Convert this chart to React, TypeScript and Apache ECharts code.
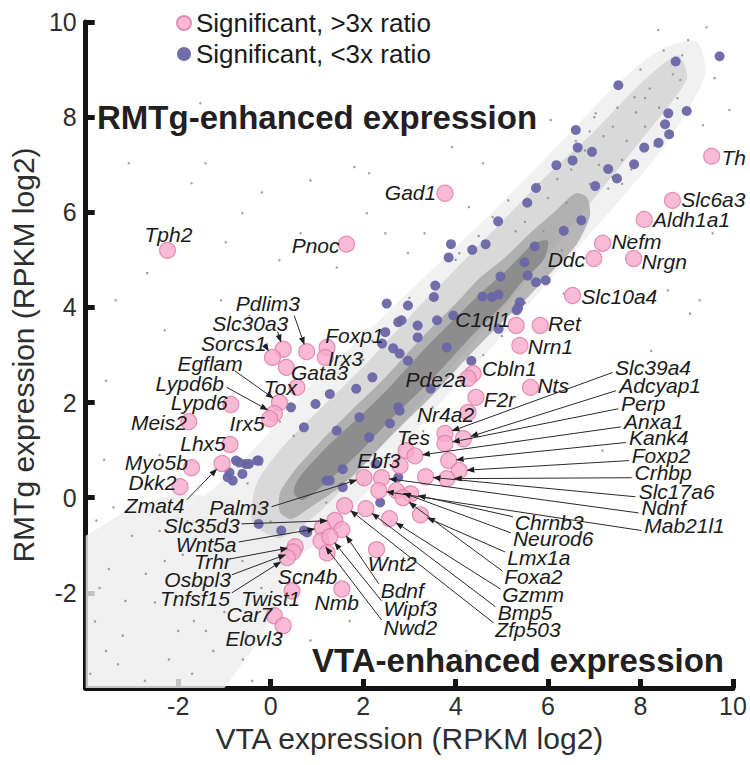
import React, { useEffect, useRef } from 'react';
import * as echarts from 'echarts';

const FONT = 'Liberation Sans, Arial, Helvetica, sans-serif';

// Axis tick values
const xTicks = [-4, -2, 0, 2, 4, 6, 8, 10];
const yTicks = [-4, -2, 0, 2, 4, 6, 8, 10];

// Significant genes, >3x ratio: [gene, VTA log2 RPKM, RMTg log2 RPKM]
const highRatioGenes: [string, number, number][] = [
  ['Th', 9.54, 7.18], ['Slc6a3', 8.69, 6.25], ['Aldh1a1', 8.08, 5.85], ['Nefm', 7.18, 5.35],
  ['Ddc', 6.99, 5.03], ['Nrgn', 7.85, 5.03], ['Slc10a4', 6.53, 4.25], ['C1ql1', 5.31, 3.62],
  ['Ret', 5.83, 3.62], ['Nrn1', 5.39, 3.2], ['Gad1', 3.77, 6.4], ['Pnoc', 1.64, 5.33],
  ['Tph2', -2.23, 5.2], ['Cbln1', 4.38, 2.61], ['Pde2a', 4.27, 2.51], ['F2r', 4.44, 2.11],
  ['Nts', 5.62, 2.32], ['Nr4a2', 4.27, 1.79], ['Pdlim3', 0.78, 3.07], ['Slc30a3', 0.27, 3.12],
  ['Sorcs1', 0.04, 2.95], ['Foxp1', 1.22, 3.16], ['Irx3', 1.18, 2.95], ['Gata3', 0.34, 2.74],
  ['Tox', 0.57, 2.32], ['Egflam', 0.19, 2.0], ['Lypd6b', 0.08, 1.77], ['Irx5', -0.02, 1.66],
  ['Lypd6', -0.86, 1.96], ['Meis2', -1.77, 1.6], ['Lhx5', -0.88, 1.12], ['Myo5b', -1.71, 0.63],
  ['Zmat4', -1.05, 0.72], ['Dkk2', -1.96, 0.23], ['Tes', 2.93, 0.99], ['Anxa1', 3.12, 0.88],
  ['Slc39a4', 3.77, 1.35], ['Adcyap1', 4.17, 1.24], ['Perp', 3.77, 1.14], ['Kank4', 3.85, 0.78],
  ['Foxp2', 4.08, 0.57], ['Crhbp', 3.81, 0.4], ['Slc17a6', 3.35, 0.44], ['Ndnf', 2.4, 0.42],
  ['Mab21l1', 2.34, 0.15], ['Ebf3', 2.8, 0.67], ['Palm3', 2.02, 0.42], ['Chrnb3', 3.03, 0.08],
  ['Neurod6', 2.72, 0.15], ['Foxa2', 2.86, 0.0], ['Lmx1a', 3.24, -0.36], ['Gzmm', 2.57, -0.44],
  ['Bmp5', 2.06, -0.23], ['Zfp503', 1.6, -0.17], ['Slc35d3', 1.39, -0.48], ['Wnt5a', 1.12, -0.63],
  ['Bdnf', 1.54, -0.67], ['Nwd2', 1.09, -0.91], ['Wipf3', 1.28, -0.82], ['Scn4b', 1.22, -1.16],
  ['Wnt2', 2.29, -1.09], ['Trhr', 0.53, -1.03], ['Osbpl3', 0.48, -1.14], ['Tnfsf15', 0.36, -1.26],
  ['Twist1', 0.46, -1.96], ['Nmb', 1.54, -1.92], ['Car7', 0.08, -2.48], ['Elovl3', 0.27, -2.69],
];

// Significant genes, <3x ratio: [VTA, RMTg]
const lowRatioGenes: [number, number][] = [
  [9.71, 9.28], [8.76, 9.17], [7.52, 8.67], [9.0, 8.13], [8.6, 8.08], [8.53, 7.85], [8.62, 7.64],
  [8.39, 7.46], [8.08, 7.36], [7.86, 7.01], [7.49, 6.71], [7.3, 6.91], [6.95, 7.27], [7.02, 6.55],
  [6.6, 7.73], [6.64, 7.36], [6.53, 7.09], [6.18, 6.99], [5.74, 6.51], [5.55, 6.2], [6.72, 5.83],
  [6.34, 5.61], [4.92, 5.81], [4.65, 5.33], [4.36, 5.21], [3.9, 5.33], [3.85, 5.05], [5.71, 5.28],
  [5.49, 4.95], [5.56, 4.67], [5.95, 4.57], [5.74, 4.53], [4.97, 4.65], [4.79, 4.22], [4.58, 4.23],
  [4.93, 4.27], [5.39, 4.11], [5.35, 3.99], [3.56, 4.46], [3.53, 4.22], [2.97, 4.04], [2.76, 3.69],
  [3.18, 3.62], [4.93, 3.55], [5.32, 3.94], [4.34, 2.88], [2.83, 3.73], [2.65, 3.14], [2.97, 2.88],
  [3.46, 2.29], [2.79, 1.83], [2.58, 1.56], [3.81, 3.16], [3.18, 3.37], [3.95, 3.83], [3.6, 3.73],
  [2.51, 4.08], [2.48, 3.48], [2.41, 3.24], [2.79, 3.03], [2.2, 2.53], [1.85, 2.29], [1.28, 2.18],
  [0.97, 1.97], [0.44, 1.9], [0.72, 1.48], [1.43, 1.41], [1.92, 1.69], [2.13, 1.27], [2.76, 1.9],
  [2.27, 0.71], [1.56, 0.6], [1.21, 0.36], [2.76, 0.43], [-0.26, 0.78], [-0.54, 0.71], [-0.75, 0.78],
  [-0.93, 0.43], [-0.61, 0.5], [2.37, -0.1], [-0.68, 0.74], [-0.47, 0.71], [-0.29, 0.78],
  [-0.89, 0.53], [-0.82, 0.36], [0.23, -0.69], [0.79, -0.73], [-0.26, -0.55], [1.28, 0.36],
  [1.56, 0.22], [0.72, -0.69],
];

// Individually visible non-significant genes (sparse region)
const otherGenes: [number, number][] = [
  [-1.52, 8.29], [-1.71, 6.61], [-0.19, 6.42], [2.13, 6.82], [0.65, 5.56], [0.19, 4.99], [-0.61, 5.98],
  [-0.97, 5.37], [-1.07, 4.15], [-2.67, 4.72], [-3.07, 7.03], [-1.41, 7.03], [1.43, 4.84], [-0.46, 3.83],
  [1.81, 6.95], [0.86, 6.67], [2.08, 5.98], [2.48, 5.56], [9.03, 9.62], [9.43, 9.89], [9.92, 8.15],
  [9.35, 7.83], [9.6, 8.82], [7.39, 6.74], [7.75, 5.47], [8.59, 4.36], [9.56, 5.56], [9.07, 3.87],
  [6.34, 4.29], [6.76, 4.88], [6.06, 7.94], [5.14, 6.25], [4.59, 7.03], [4.29, 6.11], [3.33, 5.56],
  [3.92, 7.37], [8.38, 9.83], [8.86, 8.78], [7.87, 8.42], [7.03, 8.08], [4.08, 5.14], [2.97, 5.14],
  [-3.35, 4.15], [-3.56, 2.46], [-2.93, 1.62], [-1.24, 2.88], [-2.29, 3.52], [-3.77, -0.48],
  [-1.66, -2.59], [-0.4, -3.85], [0.86, -3.0], [1.71, -2.59], [3.39, -2.17], [4.23, -3.22],
  [6.13, -1.33], [7.18, 0.99], [8.23, 3.09], [9.28, 4.15], [-0.61, -1.33], [-1.24, -3.22],
  [-2.72, -3.85], [-3.14, -2.17], [-2.29, -1.33], [-3.56, -3.22],
  [6.5, 6.9], [6.8, 7.3], [7.1, 7.0], [7.4, 7.8], [7.7, 7.5], [7.9, 8.1], [8.2, 8.6], [8.4, 8.2],
  [8.7, 8.9], [8.9, 9.3], [7.2, 7.6], [6.9, 6.6], [7.6, 7.1], [8.1, 7.8], [6.6, 7.5], [7.0, 8.0],
  [8.0, 9.0], [8.5, 9.4], [6.2, 6.7], [6.0, 6.3], [5.8, 6.6], [5.5, 5.8], [5.9, 5.6], [6.4, 6.2],
  [7.3, 6.5], [7.8, 6.9], [8.3, 7.4], [7.5, 8.2], [8.1, 8.4], [6.9, 7.7], [7.6, 6.6], [8.8, 8.4],
  [-3.5, -1.5], [-3.0, -0.8], [-2.5, -2.2], [-2.0, -2.8], [-1.5, -1.8], [-1.0, -2.4], [-0.5, -2.9],
  [-3.8, -2.6], [-3.3, -3.5], [-2.2, -3.4], [-1.8, -0.5], [-1.2, -1.0], [-0.8, -0.3], [-2.8, 0.3],
  [-3.6, 0.8], [-2.4, 0.9], [-3.2, -2.9], [-2.7, -1.6], [-3.7, -1.9], [-1.9, -1.2], [-2.4, -0.7],
  [-3.4, -0.2], [-1.4, -2.8], [-0.9, -1.6], [-0.2, -1.9], [-0.6, -3.4], [-1.7, -3.7], [-3.9, -3.7],
  [1.0, 2.0], [1.5, 2.6], [2.0, 2.9], [2.5, 3.5], [3.0, 4.2], [3.5, 4.5], [4.0, 5.0], [4.5, 5.5],
  [2.0, 0.3], [2.8, 1.0], [3.5, 1.9], [4.2, 2.6], [5.0, 3.4], [5.5, 4.1], [0.5, 1.3], [-0.2, 0.7],
  [-0.5, 0.3], [0.0, -0.5], [0.5, -0.9], [1.2, -0.1], [0.2, 1.6], [1.2, 2.5], [2.2, 3.3], [3.3, 1.4],
  [4.6, 3.0], [5.3, 5.6], [4.8, 5.9], [6.3, 5.2],
];

// Outlines of the dense cloud of all other genes (VTA, RMTg)
const cloudLowLeft: [number, number][] = [
  [-4, -4], [-4, -0.8], [-3, -0.2], [-2, 0.1], [-1, 0.0], [0, -0.4], [0.4, -1.1], [0.2, -2.2], [-0.4, -3.2], [-1.0, -4],
];
const cloudWide: [number, number][] = [
  [-2.0, -0.6], [-1.0, 0.4], [0.0, 1.4], [1.0, 2.5], [2, 3.4], [3.5, 4.8], [5, 6.2], [6.5, 7.7], [7.5, 8.7],
  [8.4, 9.4], [9.2, 9.6], [9.4, 8.9], [8.6, 7.5], [7.5, 6.2], [6.5, 5.1], [5, 3.4], [3.5, 1.8], [2.5, 0.6],
  [1.5, -0.5], [0.5, -1.3], [-0.6, -1.6],
];
const cloudMid: [number, number][] = [
  [-0.3, 0.3], [0.2, 1.0], [1, 1.8], [2, 2.75], [3, 3.8], [4, 4.8], [5, 5.8], [6, 6.8], [7, 7.7], [8, 8.7], [8.8, 9.3],
  [9.0, 8.8], [8, 7.5], [7, 6.3], [6, 5.1], [5, 3.95], [4, 2.85], [3, 1.75], [2, 0.65], [1, -0.35], [0.2, -0.85], [-0.4, -0.5],
];
const cloudCore: [number, number][] = [
  [0.2, 0.1], [0.5, 0.55], [0.86, 0.95], [1.4, 1.5], [1.92, 2.0], [2.5, 2.55], [2.97, 3.05], [3.5, 3.6],
  [4.02, 4.1], [4.5, 4.6], [5.07, 5.05], [5.6, 5.55], [6.13, 6.0], [6.6, 6.4], [6.85, 6.3], [6.9, 5.9],
  [6.6, 5.3], [6.13, 4.8], [5.6, 4.25], [5.07, 3.75], [4.5, 3.2], [4.02, 2.7], [3.5, 2.15], [2.97, 1.65],
  [2.4, 1.1], [1.92, 0.6], [1.4, 0.15], [0.86, -0.2], [0.45, -0.45], [0.2, -0.3],
];
const cloudInner: [number, number][] = [
  [0.6, 0.4], [1.2, 1.05], [1.92, 1.7], [2.5, 2.25], [2.97, 2.75], [3.5, 3.3], [4.02, 3.8], [4.6, 4.35],
  [5.07, 4.75], [5.7, 5.35], [6.0, 5.4], [5.9, 5.0], [5.4, 4.5], [5.07, 4.1], [4.5, 3.55], [4.02, 3.05],
  [3.5, 2.5], [2.97, 2.0], [2.4, 1.45], [1.92, 0.95], [1.3, 0.4], [0.7, -0.05], [0.5, 0.1],
];

// Label placement (layout): [gene, textX, textY, align, arrowStartX?, arrowStartY?]
type LabelPos = [string, number, number, string, number?, number?];
const labelLayout: LabelPos[] = [
  ['Th', 9.75, 7.16, 'left'], ['Slc6a3', 8.88, 6.27, 'left'], ['Aldh1a1', 8.27, 5.85, 'left'],
  ['Nefm', 7.37, 5.39, 'left'], ['Ddc', 6.8, 5.01, 'right'], ['Nrgn', 8.02, 4.97, 'left'],
  ['Slc10a4', 6.72, 4.23, 'left'], ['C1ql1', 5.18, 3.75, 'right'], ['Ret', 6.0, 3.66, 'left'],
  ['Nrn1', 5.56, 3.18, 'left'], ['Gad1', 3.58, 6.42, 'right'], ['Pnoc', 1.49, 5.31, 'right'],
  ['Tph2', -2.21, 5.54, 'center'], ['Cbln1', 4.57, 2.72, 'left'], ['Pde2a', 4.23, 2.48, 'right'],
  ['F2r', 4.61, 2.06, 'left'], ['Nts', 5.77, 2.36, 'left'], ['Nr4a2', 4.4, 1.75, 'right'],
  ['Tes', 3.09, 1.26, 'center'], ['Ebf3', 2.34, 0.78, 'center'], ['Foxp1', 1.18, 3.41, 'left'],
  ['Irx3', 1.24, 2.93, 'left'], ['Gata3', 0.44, 2.63, 'left'], ['Tox', 0.21, 2.32, 'center'],
  ['Lypd6', -0.93, 2.0, 'right'], ['Meis2', -1.81, 1.58, 'right'], ['Irx5', -0.51, 1.56, 'center'],
  ['Lhx5', -0.97, 1.14, 'right'], ['Myo5b', -1.79, 0.74, 'right'], ['Dkk2', -2.04, 0.32, 'right'],
  ['Wnt2', 2.63, -1.39, 'center'], ['Scn4b', 0.8, -1.66, 'center'], ['Twist1', 0.0, -2.11, 'center'],
  ['Nmb', 1.43, -2.21, 'center'], ['Car7', -0.46, -2.46, 'center'], ['Elovl3', -0.36, -2.95, 'center'],
  ['Pdlim3', -0.06, 4.08, 'center', 0.51, 3.83], ['Slc30a3', -0.44, 3.66, 'center', 0.15, 3.49],
  ['Sorcs1', -0.8, 3.24, 'center', -0.08, 3.14], ['Egflam', -1.31, 2.82, 'center', -0.78, 2.67],
  ['Lypd6b', -1.75, 2.4, 'center', -0.95, 2.32], ['Zmat4', -2.51, -0.17, 'center', -1.81, -0.04],
  ['Palm3', -0.04, -0.21, 'right', 0.02, -0.19], ['Slc35d3', -0.67, -0.59, 'right', -0.63, -0.55],
  ['Wnt5a', -0.74, -0.99, 'right', -0.69, -0.93], ['Trhr', -0.86, -1.35, 'right', -0.84, -1.28],
  ['Osbpl3', -0.86, -1.71, 'right', -0.84, -1.62], ['Tnfsf15', -0.88, -2.11, 'right', -0.84, -2.0],
  ['Slc39a4', 7.45, 2.74, 'left', 7.39, 2.63], ['Adcyap1', 7.54, 2.36, 'left', 7.47, 2.25],
  ['Perp', 7.58, 1.98, 'left', 7.52, 1.87], ['Anxa1', 7.64, 1.6, 'left', 7.58, 1.49],
  ['Kank4', 7.75, 1.26, 'left', 7.68, 1.16], ['Foxp2', 7.81, 0.88, 'left', 7.75, 0.78],
  ['Crhbp', 7.87, 0.53, 'left', 7.81, 0.42], ['Slc17a6', 7.96, 0.13, 'left', 7.89, 0.02],
  ['Ndnf', 8.02, -0.21, 'left', 7.96, -0.32], ['Mab21l1', 8.08, -0.59, 'left', 8.02, -0.69],
  ['Chrnb3', 5.28, -0.53, 'left', 5.24, -0.4], ['Neurod6', 5.24, -0.86, 'left', 5.2, -0.74],
  ['Lmx1a', 5.12, -1.26, 'left', 5.07, -1.14], ['Foxa2', 5.05, -1.66, 'left', 5.01, -1.54],
  ['Gzmm', 5.01, -2.04, 'left', 4.97, -1.92], ['Bmp5', 4.91, -2.42, 'left', 4.86, -2.29],
  ['Zfp503', 4.86, -2.76, 'left', 4.82, -2.63], ['Bdnf', 2.38, -1.96, 'left', 2.34, -1.81],
  ['Wipf3', 2.44, -2.32, 'left', 2.4, -2.17], ['Nwd2', 2.44, -2.72, 'left', 2.4, -2.57],
];

const HIGH_NAME = 'Significant, >3x ratio';
const LOW_NAME = 'Significant, <3x ratio';

const cloudLayers = [
  { pts: cloudLowLeft, fill: '#ededed', opacity: 0.8, smooth: 0 },
  { pts: cloudWide, fill: '#ececec', opacity: 0.75, smooth: 0.25 },
  { pts: cloudMid, fill: '#c9c9c9', opacity: 0.6, smooth: 0.25 },
  { pts: cloudCore, fill: '#a2a2a2', opacity: 0.75, smooth: 0.25 },
  { pts: cloudInner, fill: '#858585', opacity: 0.8, smooth: 0.25 },
];

export default function App() {
  const ref = useRef<HTMLDivElement>(null);
  useEffect(() => {
    const chart = echarts.init(ref.current!, null, { renderer: 'svg' });
    const geneMap: Record<string, [number, number]> = {};
    highRatioGenes.forEach((g) => (geneMap[g[0]] = [g[1], g[2]]));

    const axisCommon = {
      type: 'value' as const,
      min: -4,
      max: 10,
      interval: 2,
      nameLocation: 'middle' as const,
      nameTextStyle: { fontSize: 30, color: '#2e2e2e', fontFamily: FONT },
      axisLine: { show: true, onZero: false, lineStyle: { color: '#141414', width: 5 } },
      axisTick: { show: true, inside: true, length: 9, lineStyle: { color: '#141414', width: 5 } },
      splitLine: { show: false },
    };

    const option: any = {
      animation: false,
      backgroundColor: '#ffffff',
      grid: { left: 68, right: 17, top: 22, bottom: 77, containLabel: false },
      legend: {
        orient: 'vertical',
        left: 171,
        top: 5,
        itemWidth: 14,
        itemHeight: 14,
        itemGap: 5,
        textStyle: { fontSize: 26, color: '#1a1a1a', fontFamily: FONT },
        data: [
          { name: HIGH_NAME, icon: 'circle' },
          { name: LOW_NAME, icon: 'circle' },
        ],
      },
      xAxis: {
        ...axisCommon,
        name: 'VTA expression (RPKM log2)',
        nameGap: 35,
        axisLabel: {
          fontSize: 25, color: '#2e2e2e', margin: 5, fontFamily: FONT,
          formatter: (v: number) => (xTicks.indexOf(v) > 0 ? String(v) : ''),
        },
      },
      yAxis: {
        ...axisCommon,
        name: 'RMTg expression (RPKM log2)',
        nameGap: 33,
        axisLabel: {
          fontSize: 25, color: '#2e2e2e', margin: 9, fontFamily: FONT,
          formatter: (v: number) => (yTicks.indexOf(v) > 0 ? String(v) : ''),
        },
      },
      graphic: [
        {
          type: 'text', x: 97, y: 117, z: 100,
          style: { text: 'RMTg-enhanced expression', font: `bold 33px ${FONT}`, fill: '#231f20', verticalAlign: 'middle', align: 'left' },
        },
        {
          type: 'text', x: 724, y: 660, z: 100,
          style: { text: 'VTA-enhanced expression', font: `bold 33px ${FONT}`, fill: '#231f20', verticalAlign: 'middle', align: 'right' },
        },
      ],
      series: [
        {
          type: 'custom',
          name: 'cloud',
          silent: true,
          z: 1,
          clip: true,
          data: cloudLayers.map((l) => l.pts[0]),
          renderItem: (params: any, api: any) => {
            const layer = cloudLayers[params.dataIndex];
            return {
              type: 'polygon',
              shape: { points: layer.pts.map((p) => api.coord(p)), smooth: layer.smooth },
              style: { fill: layer.fill, opacity: layer.opacity },
            };
          },
        },
        {
          type: 'scatter',
          name: 'other',
          silent: true,
          z: 2,
          symbolSize: 2.5,
          itemStyle: { color: '#8f8f8f', opacity: 0.85 },
          data: otherGenes,
        },
        {
          type: 'scatter',
          name: LOW_NAME,
          z: 3,
          symbolSize: 10,
          itemStyle: { color: '#6a66a6', opacity: 0.95 },
          data: lowRatioGenes,
        },
        {
          type: 'scatter',
          name: HIGH_NAME,
          z: 4,
          symbolSize: 16,
          itemStyle: { color: '#f6a9c9', borderColor: '#df7aa5', borderWidth: 1.2 },
          data: highRatioGenes.map((g) => ({ name: g[0], value: [g[1], g[2]] })),
        },
        {
          type: 'custom',
          name: 'labels',
          silent: true,
          z: 5,
          data: labelLayout.map((l) => geneMap[l[0]]),
          renderItem: (params: any, api: any) => {
            const l = labelLayout[params.dataIndex];
            const g = geneMap[l[0]];
            const t = api.coord([l[1], l[2]]);
            const children: any[] = [];
            if (l[4] !== undefined && l[5] !== undefined) {
              const s = api.coord([l[4], l[5]]);
              const c = api.coord(g);
              const dx = c[0] - s[0];
              const dy = c[1] - s[1];
              const len = Math.hypot(dx, dy) || 1;
              const ux = dx / len;
              const uy = dy / len;
              const tip = [c[0] - ux * 7, c[1] - uy * 7];
              const base = [tip[0] - ux * 8, tip[1] - uy * 8];
              children.push({
                type: 'line',
                shape: { x1: s[0], y1: s[1], x2: base[0], y2: base[1] },
                style: { stroke: '#2a2a2a', lineWidth: 1 },
              });
              children.push({
                type: 'polygon',
                shape: {
                  points: [tip, [base[0] - uy * 3, base[1] + ux * 3], [base[0] + uy * 3, base[1] - ux * 3]],
                },
                style: { fill: '#1e1e1e' },
              });
            }
            children.push({
              type: 'text',
              x: t[0],
              y: t[1],
              style: {
                text: l[0],
                font: `italic 21px ${FONT}`,
                fill: '#1b1b1b',
                align: l[3],
                verticalAlign: 'middle',
              },
            });
            return { type: 'group', children };
          },
        },
      ],
    };

    chart.setOption(option);
    return () => chart.dispose();
  }, []);
  return <div ref={ref} style={{ position: 'fixed', left: 0, top: 0, width: 750, height: 765 }} />;
}
